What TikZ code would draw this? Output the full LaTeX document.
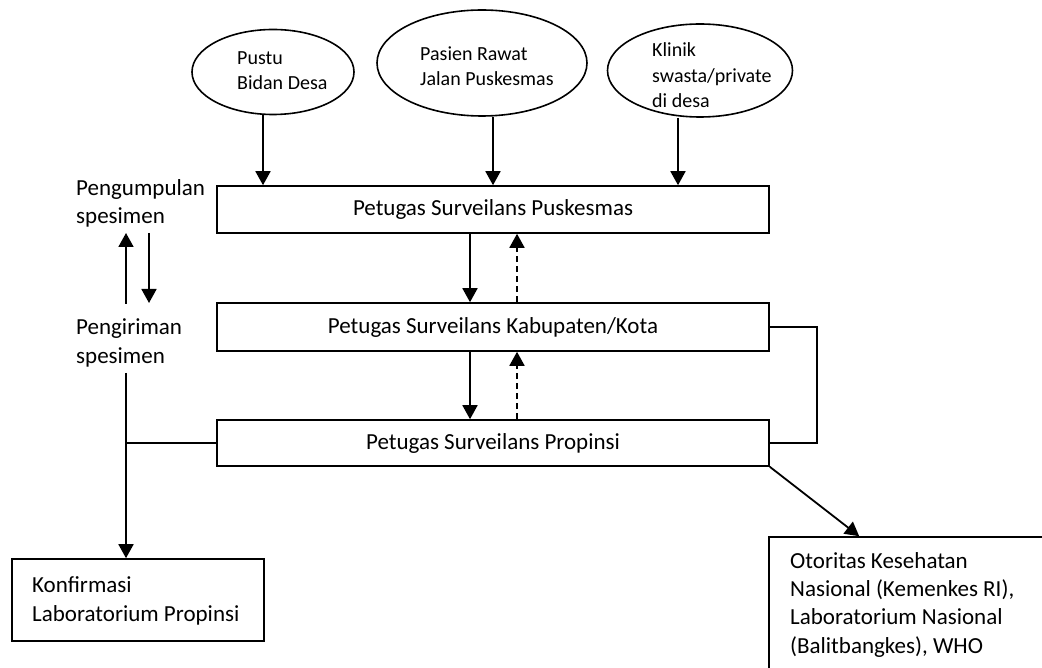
\documentclass[tikz,border=0pt]{standalone}
\usepackage{fontspec}
\setmainfont{Carlito}
\usetikzlibrary{arrows.meta,shapes.geometric}
\begin{document}
\begin{tikzpicture}[x=1pt,y=-1pt,
  arr/.style={line width=1.8pt,-{Triangle[width=15pt,length=14pt]}},
  plain/.style={line width=1.5pt},
  box/.style={draw,line width=1.6pt,rectangle,inner sep=0pt,font=\fontsize{23}{28.3}\selectfont},
  oval/.style={draw,line width=1.6pt,ellipse,inner sep=0pt},
  etxt/.style={anchor=base west,align=left,inner sep=0pt,font=\fontsize{20}{25.5}\selectfont},
  txt/.style={anchor=base west,align=left,inner sep=0pt,font=\fontsize{23}{28.3}\selectfont}]
\useasboundingbox (0,0) rectangle (1042,668);
% ellipses
\node[oval,minimum width=162pt,minimum height=85pt] (e1) at (273,72) {};
\node[oval,minimum width=210pt,minimum height=106pt] (e2) at (482,63) {};
\node[oval,minimum width=185pt,minimum height=93pt] (e3) at (700,70.5) {};
% (base anchor of a multi-line node = last line's baseline)
\node[etxt] (t1) at (237,90) {Pustu\\Bidan Desa};
\node[etxt] (t2) at (420,86) {Pasien Rawat\\Jalan Puskesmas};
\node[etxt] (t3) at (652,108) {Klinik\\swasta/private\\di desa};
% boxes
\node[box,minimum width=552pt,minimum height=47pt] (b1) at (493,209.5) {Petugas Surveilans Puskesmas};
\node[box,minimum width=552pt,minimum height=48pt] (b2) at (493,327) {Petugas Surveilans Kabupaten/Kota};
\node[box,minimum width=552pt,minimum height=46pt] (b3) at (493,443) {Petugas Surveilans Propinsi};
\node[box,minimum width=252pt,minimum height=82pt] (k) at (138,600) {};
\node[txt] (kt) at (32,621) {Konfirmasi\\Laboratorium Propinsi};
\node[box,minimum width=300pt,minimum height=160pt] (o) at (919,617) {};
\node[txt] (ot) at (790,653) {Otoritas Kesehatan\\Nasional (Kemenkes RI),\\Laboratorium Nasional\\(Balitbangkes), WHO};
% left labels
\node[txt] (l1) at (76,224) {Pengumpulan\\spesimen};
\node[txt] (l2) at (76,363) {Pengiriman\\spesimen};
% arrows from ellipses
\draw[arr] ([xshift=-10pt]e1.south) -- ([xshift=-10pt]e1.south |- b1.north);
\draw[arr] ([xshift=11pt]e2.south) -- ([xshift=11pt]e2.south |- b1.north);
\draw[arr] ([xshift=-22pt]e3.south) -- ([xshift=-22pt]e3.south |- b1.north);
% between boxes
\draw[arr] ([xshift=-23pt]b1.south) -- ([xshift=-23pt]b2.north);
\draw[arr,dash pattern=on 6pt off 4pt] ([xshift=24pt]b2.north) -- ([xshift=24pt]b1.south);
\draw[arr] ([xshift=-23pt]b2.south) -- ([xshift=-23pt]b3.north);
\draw[arr,dash pattern=on 6pt off 4pt] ([xshift=24pt]b3.north) -- ([xshift=24pt]b2.south);
% bracket right
\draw[plain] (b2.east) -- ++(47,0) |- (b3.east);
% diagonal
\draw[arr] (b3.south east) -- ([xshift=91pt]o.north west);
% left arrows
\coordinate (u0) at (126,304);
\coordinate (u1) at (126,233);
\coordinate (d0) at (149,233);
\coordinate (d1) at (149,303);
\draw[arr] (u0) -- (u1);
\draw[arr] (d0) -- (d1);
\coordinate (v0) at (126,373);
\draw[arr] (v0) -- (v0 |- k.north);
\draw[plain] (v0 |- b3.west) -- (b3.west);
\end{tikzpicture}
\end{document}
